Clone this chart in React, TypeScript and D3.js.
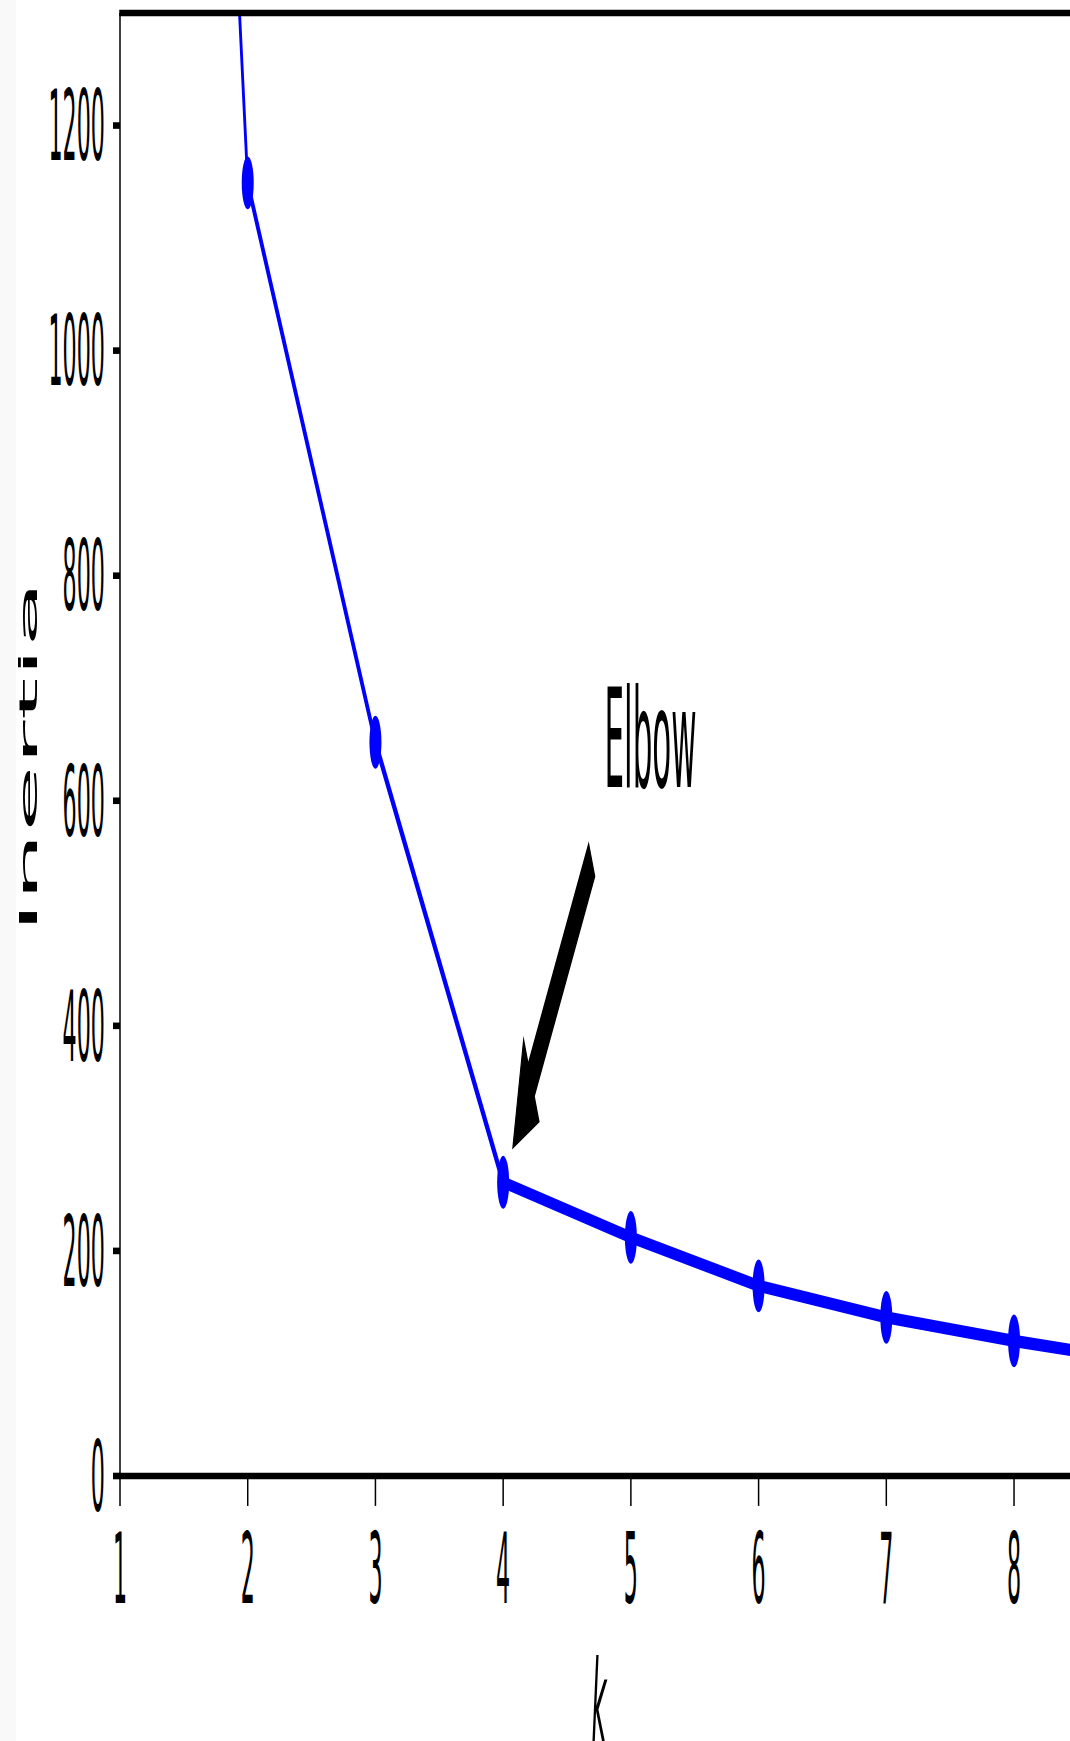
import React from "react";
import * as d3 from "d3";

// Data
const ks = [1, 2, 3, 4, 5, 6, 7, 8, 9];
const inertias = [3500, 1149, 652, 261, 212, 169, 141, 120, 102];
const xTicks = [1, 2, 3, 4, 5, 6, 7, 8];
const yTicks = [0, 200, 400, 600, 800, 1000, 1200];
const elbowK = 4;

const W = 1070;
const H = 1741;
const S = 4.4; // vertical stretch of the picture

export default function App() {
  const x = d3.scaleLinear().domain([1, 8.5]).range([120, 1077.9]);
  const y = d3.scaleLinear().domain([0, 1300]).range([1476 / S, 13 / S]);

  const pts: [number, number][] = ks.map((k, i) => [x(k), y(inertias[i])]);
  const line = d3.line<[number, number]>().x((d) => d[0]).y((d) => d[1]);

  // annotation arrow (matplotlib-like, shrink 0.1)
  const idx = ks.indexOf(elbowK);
  const P = [x(elbowK), y(inertias[idx])];
  const Sx = 601.5, Sy = 187.4;
  const T = [Sx + 0.1 * (P[0] - Sx), Sy + 0.1 * (P[1] - Sy)];
  const E = [P[0] + 0.1 * (Sx - P[0]), P[1] + 0.1 * (Sy - P[1])];
  const dx = E[0] - T[0], dy = E[1] - T[1];
  const len = Math.hypot(dx, dy);
  const u = [dx / len, dy / len];
  const n = [-u[1], u[0]];
  const tw = 9.3, hw = 23.8, hl = 23.6;
  const B = [E[0] - u[0] * hl, E[1] - u[1] * hl];
  const arrowPts = [
    [T[0] + (n[0] * tw) / 2, T[1] + (n[1] * tw) / 2],
    [B[0] + (n[0] * tw) / 2, B[1] + (n[1] * tw) / 2],
    [B[0] + (n[0] * hw) / 2, B[1] + (n[1] * hw) / 2],
    [E[0], E[1]],
    [B[0] - (n[0] * hw) / 2, B[1] - (n[1] * hw) / 2],
    [B[0] - (n[0] * tw) / 2, B[1] - (n[1] * tw) / 2],
    [T[0] - (n[0] * tw) / 2, T[1] - (n[1] * tw) / 2],
  ];

  const x0 = x.range()[0], x1 = x.range()[1];
  const yb = y(0), yt = y(1300);
  const font = "'DejaVu Sans', sans-serif";

  return (
    <svg
      width={W}
      height={H}
      style={{ position: "absolute", left: 0, top: 0 }}
      xmlns="http://www.w3.org/2000/svg"
    >
      <rect x={0} y={0} width={W} height={H} fill="#ffffff" />
      <rect x={0} y={0} width={16} height={H} fill="#f9f9f9" />
      <g transform={`scale(1, ${S})`}>
        <defs>
          <clipPath id="plotclip">
            <rect x={x0} y={yt} width={x1 - x0} height={yb - yt} />
          </clipPath>
        </defs>
        <g clipPath="url(#plotclip)">
          <path d={line(pts) || ""} fill="none" stroke="#0000ff" strokeWidth={2.8} strokeLinejoin="round" />
          {pts.map((p, i) => (
            <circle key={i} cx={p[0]} cy={p[1]} r={6} fill="#0000ff" />
          ))}
        </g>
        {/* spines */}
        <line x1={x0} x2={x0} y1={yt} y2={yb} stroke="#000" strokeWidth={1.5} />
        <line x1={x0 - 0.75} x2={x1} y1={yb} y2={yb} stroke="#000" strokeWidth={1.5} />
        <line x1={x0 - 0.75} x2={x1} y1={yt} y2={yt} stroke="#000" strokeWidth={1.5} />
        {/* y ticks */}
        {yTicks.map((v) => (
          <g key={"y" + v}>
            <line x1={x0 - 7} x2={x0} y1={y(v)} y2={y(v)} stroke="#000" strokeWidth={1.5} />
            <text x={105} y={y(v) + 7.9} textAnchor="end" fontFamily={font} fontSize={22.2} fill="#000">
              {v}
            </text>
          </g>
        ))}
        {/* x ticks */}
        {xTicks.map((v) => (
          <g key={"x" + v}>
            <line x1={x(v)} x2={x(v)} y1={yb} y2={yb + 6.8} stroke="#000" strokeWidth={1.5} />
            <text x={x(v)} y={1603 / S} textAnchor="middle" fontFamily={font} fontSize={22.2} fill="#000">
              {v}
            </text>
          </g>
        ))}
        {/* axis labels */}
        <text
          transform={`translate(37, ${757 / S}) rotate(-90)`}
          textAnchor="middle"
          fontFamily={font}
          fontSize={24.8}
          fill="#000"
        >
          Inertia
        </text>
        <text x={x(4.75)} y={1742 / S} textAnchor="middle" fontFamily={font} fontStyle="italic" fontSize={26} fill="#000">
          k
        </text>
        {/* annotation */}
        <text x={Sx + 3} y={787 / S} fontFamily={font} fontSize={31} fill="#000">
          Elbow
        </text>
        <polygon points={arrowPts.map((p) => p.join(",")).join(" ")} fill="#000" stroke="#000" strokeWidth={1} />
      </g>
    </svg>
  );
}
